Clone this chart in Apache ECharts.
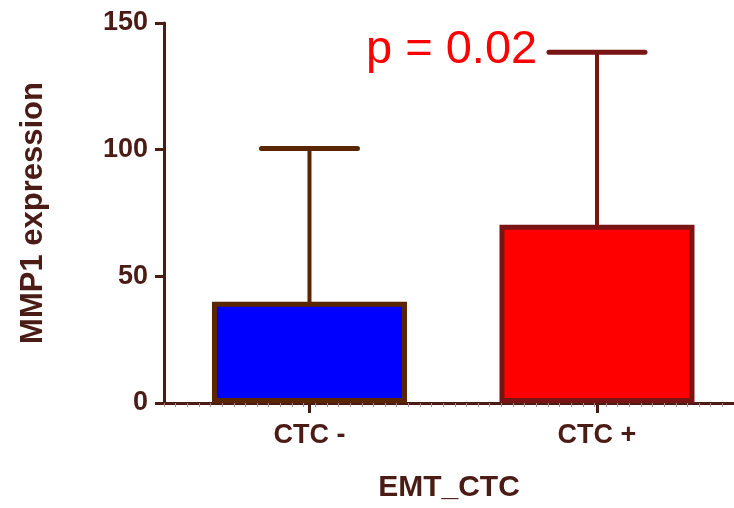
<!DOCTYPE html>
<html>
<head>
<meta charset="utf-8">
<script src="https://cdn.jsdelivr.net/npm/echarts@6/dist/echarts.min.js"></script>
<style>html,body{margin:0;padding:0;background:#fff}#c{width:734px;height:508px}</style>
</head>
<body>
<div id="c"></div>
<script>
var categories = ['CTC -', 'CTC +'];
var meanValues = [40, 70.4];
var upperValues = [100.5, 138.5];
var yTicks = [0, 50, 100, 150];
var pText = 'p = 0.02';

var axisColor = '#4b1b15';
var fillColors = ['#0000ff', '#ff0000'];
var borderColors = ['#5a2600', '#781414'];
var catPos = categories.map(function (c, i) { return i; });

var chart = echarts.init(document.getElementById('c'));
chart.setOption({
  animation: false,
  grid: {left: 164, right: 0, top: 23, bottom: 100, containLabel: false},
  xAxis: [{
    type: 'value',
    min: -0.506, max: 1.4765,
    axisLine: {show: true, onZero: false, lineStyle: {color: axisColor, width: 3}},
    axisTick: {show: true, customValues: catPos, length: 10, lineStyle: {color: axisColor, width: 3}},
    axisLabel: {show: true, customValues: catPos, color: axisColor, fontFamily: 'Liberation Sans', fontWeight: 'bold', fontSize: 27, margin: 19,
      formatter: function (v) { return categories[Math.round(v)] || ''; }},
    splitLine: {show: false},
    name: 'EMT_CTC',
    nameLocation: 'middle',
    nameGap: 70,
    nameTextStyle: {color: axisColor, fontFamily: 'Liberation Sans', fontWeight: 'bold', fontSize: 30}
  }, {
    type: 'value',
    position: 'bottom',
    min: 0, max: 49, interval: 1,
    axisLine: {show: false, onZero: false},
    axisTick: {show: true, length: 4, lineStyle: {color: '#b08a86', width: 1}},
    axisLabel: {show: false},
    splitLine: {show: false}
  }],
  yAxis: {
    type: 'value',
    min: 0, max: 150, interval: 50,
    axisLine: {show: true, onZero: false, lineStyle: {color: axisColor, width: 3}},
    axisTick: {show: true, length: 9, lineStyle: {color: axisColor, width: 3}},
    axisLabel: {color: axisColor, fontFamily: 'Liberation Sans', fontWeight: 'bold', fontSize: 27, margin: 16,
      formatter: function (v) { return yTicks.indexOf(v) >= 0 ? String(v) : ''; }},
    splitLine: {show: false},
    name: 'MMP1 expression',
    nameLocation: 'middle',
    nameGap: 115,
    nameTextStyle: {color: axisColor, fontFamily: 'Liberation Sans', fontWeight: 'bold', fontSize: 31}
  },
  series: [{
    type: 'bar',
    xAxisIndex: 0,
    barWidth: 195,
    data: meanValues.map(function (v, i) {
      return {value: [catPos[i], v], itemStyle: {color: fillColors[i], borderColor: borderColors[i], borderWidth: 5}};
    }),
    z: 2
  }, {
    type: 'custom',
    xAxisIndex: 0,
    data: categories.map(function (c, i) { return [catPos[i], meanValues[i], upperValues[i]]; }),
    renderItem: function (params, api) {
      var i = api.value(0);
      var base = api.coord([i, api.value(1)]);
      var top = api.coord([i, api.value(2)]);
      var col = borderColors[params.dataIndex];
      return {
        type: 'group',
        children: [{
          type: 'line',
          shape: {x1: base[0], y1: base[1] + 2, x2: top[0], y2: top[1]},
          style: {stroke: col, lineWidth: 4}
        }, {
          type: 'line',
          shape: {x1: top[0] - 48, y1: top[1], x2: top[0] + 48, y2: top[1]},
          style: {stroke: col, lineWidth: 5, lineCap: 'round'}
        }]
      };
    },
    z: 1
  }],
  graphic: [{
    type: 'text',
    left: 366,
    top: 27,
    style: {text: pText, fill: '#ff0000', fontFamily: 'Liberation Sans', fontSize: 47}
  }]
});
</script>
</body>
</html>
